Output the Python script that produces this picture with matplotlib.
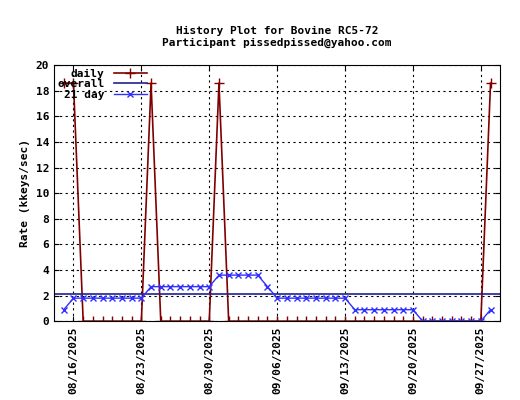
import matplotlib
matplotlib.use("Agg")
import matplotlib.pyplot as plt
import matplotlib.dates as mdates
import datetime as dt

plt.rcParams['font.family'] = ['DejaVu Sans Mono']
start = dt.date(2025, 8, 15)
dates = [start + dt.timedelta(days=i) for i in range(45)]
peaks = {"2025-08-15", "2025-08-16", "2025-08-24", "2025-08-31", "2025-09-28"}
daily = [18.6 if d.isoformat() in peaks else 0.0 for d in dates]
day21 = ([0.9] + [1.8]*8 + [2.7]*7 + [3.6]*5 + [2.7] + [1.8]*8 + [0.9]*7 + [0.0]*7 + [0.9])
overall = 2.1
ticks = [dt.date(2025, 8, 16) + dt.timedelta(days=7*i) for i in range(7)]

fig = plt.figure(figsize=(5.2, 4.0), dpi=100)
ax = fig.add_axes([0.104, 0.197, 0.858, 0.64])
ax.plot(dates, daily, color='#800000', marker='+', ms=7, mew=1, lw=1.2, label='daily')
ax.axhline(overall, color='#202090', lw=1.2, label='overall')
ax.plot(dates, day21, color='#3030ff', marker='x', ms=5, mew=1, lw=1, label='21 day')
ax.set_ylim(0, 20)
ax.set_yticks(range(0, 21, 2))
ax.set_xlim(dt.date(2025, 8, 14), dt.date(2025, 9, 29))
ax.set_xticks(ticks)
ax.xaxis.set_major_formatter(mdates.DateFormatter('%m/%d/%Y'))
plt.setp(ax.get_xticklabels(), rotation=90, fontsize=8, fontweight='bold')
plt.setp(ax.get_yticklabels(), fontsize=8, fontweight='bold')
ax.tick_params(direction='in', top=True, right=True)
ax.grid(True, color='black', linestyle=(0, (2, 3)), lw=0.8)
ax.set_ylabel('Rate (kkeys/sec)', fontsize=8, fontweight='bold')
ax.set_title('History Plot for Bovine RC5-72\nParticipant pissedpissed@yahoo.com',
             fontsize=8, fontweight='bold', pad=14)
leg = ax.legend(loc='upper left', frameon=False, fontsize=8, markerfirst=False,
                borderpad=0.1, borderaxespad=0.2, handlelength=3, labelspacing=0.05)
for t in leg.get_texts():
    t.set_fontweight('bold')
fig.savefig('out.png')
